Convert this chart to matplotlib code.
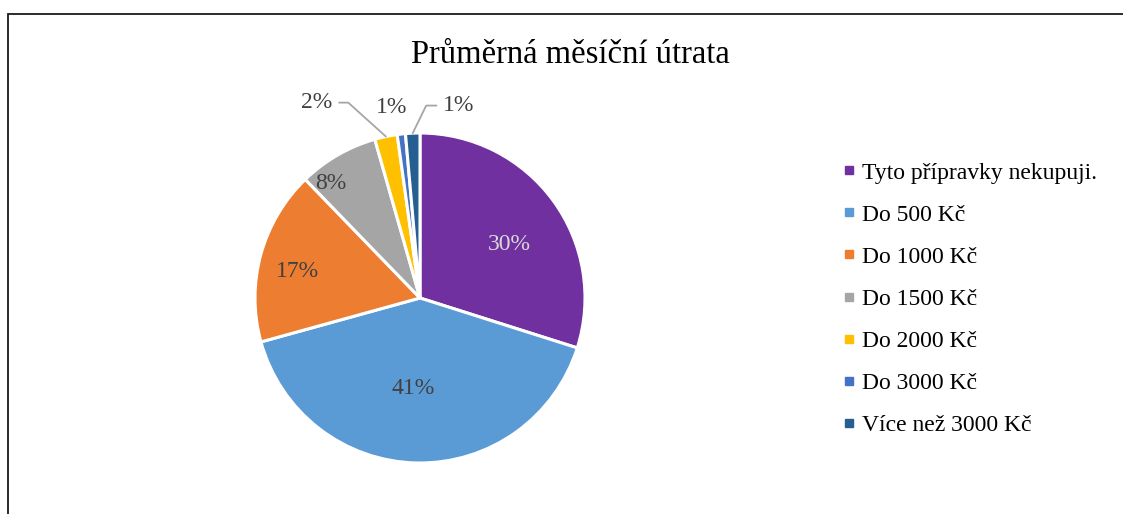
import numpy as np
import matplotlib
matplotlib.use("Agg")
import matplotlib.pyplot as plt
from matplotlib.lines import Line2D
from matplotlib.patches import Rectangle

plt.rcParams['font.family'] = ['Liberation Serif', 'DejaVu Serif']

# data
kategorie = ['Tyto přípravky nekupuji.', 'Do 500 Kč', 'Do 1000 Kč', 'Do 1500 Kč',
             'Do 2000 Kč', 'Do 3000 Kč', 'Více než 3000 Kč']
hodnoty = [29.8, 40.7, 17.0, 7.8, 2.2, 0.8, 1.4]
barvy = ['#7030A0', '#5B9BD5', '#ED7D31', '#A5A5A5', '#FFC000', '#4472C4', '#255E91']

# label placement: (radius, angle shift in deg) ; outside labels get a leader line
pozice_popisku = [(0.63, -5), (0.55, -3), (0.76, 3), (0.88, 8), (1.34, 16), (1.17, 2), (1.19, -14)]
vodici_cara = [False, False, False, False, True, False, True]
barva_popisku = ['#D9D9D9', '#404040', '#404040', '#404040', '#404040', '#404040', '#404040']

W, H = 1123, 514
fig = plt.figure(figsize=(W / 100, H / 100), dpi=100)

# chart border
fig.patches.append(Rectangle((8 / W, -0.1), 1.2, (H - 14) / H + 0.1, transform=fig.transFigure,
                             fill=False, edgecolor='#1a1a1a', linewidth=1.3, clip_on=False))

cx, cy, r = 420, H - 298, 165
half = 200
ax = fig.add_axes([(cx - half) / W, (cy - half) / H, 2 * half / W, 2 * half / H])

wedges, _ = ax.pie(hodnoty, colors=barvy, startangle=90, counterclock=False, radius=1,
                   wedgeprops=dict(edgecolor='white', linewidth=2.2))
ax.set_xlim(-half / r, half / r)
ax.set_ylim(-half / r, half / r)
ax.axis('off')

celkem = sum(hodnoty)
for w, v, (rd, da), cara, bc in zip(wedges, hodnoty, pozice_popisku, vodici_cara, barva_popisku):
    mid = np.deg2rad((w.theta1 + w.theta2) / 2)
    ang = mid + np.deg2rad(da)
    txt = f"{round(v / celkem * 100)}%"
    tx, ty = rd * np.cos(ang), rd * np.sin(ang)
    if cara:
        bx, by = 1.0 * np.cos(mid), 1.0 * np.sin(mid)
        if tx < bx:
            cs = "angle,angleA=0,angleB=138,rad=0"
            rel = (1, 0.5)
        else:
            cs = "angle,angleA=0,angleB=64,rad=0"
            rel = (0, 0.5)
        ax.annotate(txt, xy=(bx, by), xytext=(tx, ty), ha='center', va='center',
                    fontsize=17, color=bc,
                    arrowprops=dict(arrowstyle='-', color='#A6A6A6', lw=1.3,
                                    connectionstyle=cs, relpos=rel, shrinkA=3, shrinkB=0))
    else:
        ax.text(tx, ty, txt, ha='center', va='center', fontsize=17, color=bc)

fig.text(570 / W, 1 - 55 / H, 'Průměrná měsíční útrata', ha='center', va='center',
         fontsize=23.5, color='#000000')

handles = [Line2D([], [], marker='s', linestyle='none', markersize=5.5,
                  markerfacecolor=c, markeredgecolor=c) for c in barvy]
fig.legend(handles, kategorie, loc='center left', bbox_to_anchor=(842 / W, 1 - 299 / H),
           frameon=False, fontsize=17, handlelength=0.6, handletextpad=0.25,
           labelspacing=0.87, borderpad=0, borderaxespad=0)

fig.savefig('out.png', dpi=100)
